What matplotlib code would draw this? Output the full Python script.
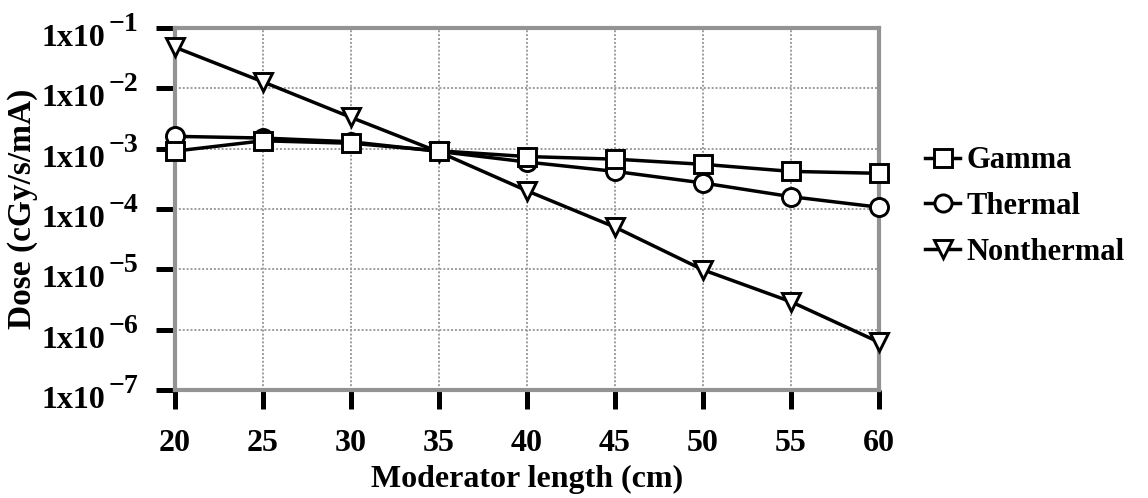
import matplotlib as mpl
import matplotlib.pyplot as plt
from matplotlib.ticker import FixedLocator, NullFormatter
from matplotlib.transforms import blended_transform_factory

# moderator length (cm) and dose rates (cGy/s/mA)
length_cm = [20, 25, 30, 35, 40, 45, 50, 55, 60]
gamma = [9.1e-4, 1.35e-3, 1.23e-3, 9.2e-4, 7.4e-4, 6.7e-4, 5.5e-4, 4.2e-4, 3.9e-4]
thermal = [1.6e-3, 1.5e-3, 1.3e-3, 9.0e-4, 6.0e-4, 4.2e-4, 2.7e-4, 1.6e-4, 1.07e-4]
nonthermal = [4.8e-2, 1.28e-2, 3.3e-3, 8.8e-4, 2.0e-4, 5.0e-5, 9.8e-6, 2.9e-6, 6.2e-7]
decades = [-7, -6, -5, -4, -3, -2, -1]

mpl.rcParams.update({"font.family": "Liberation Serif", "font.weight": "bold"})

fig = plt.figure(figsize=(11.48, 4.98), dpi=100)
ax = fig.add_axes([0.1524, 0.2169, 0.6133, 0.7269])

style = dict(color="black", linewidth=2.5, markersize=13, markeredgewidth=2.1,
             markerfacecolor="white", markeredgecolor="black", clip_on=False)
ax.plot(length_cm, nonthermal, marker="v", label="Nonthermal", zorder=3, **style)
ax.plot(length_cm, thermal, marker="o", label="Thermal", zorder=4, **style)
ax.plot(length_cm, gamma, marker="s", label="Gamma", zorder=5, **style)

ax.set_yscale("log")
ax.set_xlim(20, 60)
ax.set_ylim(1e-7, 1e-1)
ax.xaxis.set_major_locator(FixedLocator(length_cm))
ax.yaxis.set_major_locator(FixedLocator([10.0 ** d for d in decades]))
ax.yaxis.set_minor_locator(FixedLocator([]))
ax.yaxis.set_major_formatter(NullFormatter())

# "1x10" with a large raised exponent beside each decade tick
trans = blended_transform_factory(ax.transAxes, ax.transData)
for d in decades:
    ax.annotate("1x10", xy=(0, 10.0 ** d), xycoords=trans, xytext=(-50, -7.5),
                textcoords="offset points", ha="right", va="center", fontsize=23,
                fontweight="bold", annotation_clip=False)
    ax.annotate("\u2212%d" % -d, xy=(0, 10.0 ** d), xycoords=trans, xytext=(-48, 2.5),
                textcoords="offset points", ha="left", va="center", fontsize=20,
                fontweight="bold", annotation_clip=False)

ax.grid(True, color="#9c9c9c", linestyle=(0, (1, 1)), linewidth=1.4)
for side in ax.spines.values():
    side.set_color("#939393")
    side.set_linewidth(3.0)
ax.tick_params(axis="both", direction="out", length=14, width=3.6, color="black")
ax.tick_params(axis="x", labelsize=23, pad=14)

ax.set_xlabel("Moderator length (cm)", fontsize=23, fontweight="bold", labelpad=5)
ax.set_ylabel("Dose (cGy/s/mA)", fontsize=24, fontweight="bold")
ax.yaxis.set_label_coords(-0.195, 0.5)

handles, labels = ax.get_legend_handles_labels()
fig.legend(handles[::-1], labels[::-1], loc="center left", bbox_to_anchor=(0.782, 0.585),
           frameon=False, fontsize=22, handlelength=1.15, handletextpad=0.2,
           labelspacing=0.55, markerscale=0.95)

fig.savefig("out.png", dpi=100)
